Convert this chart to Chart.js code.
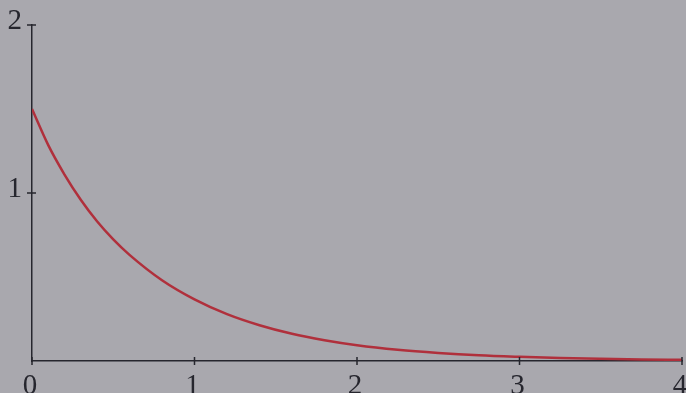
<!DOCTYPE html>
<html>
<head>
<meta charset="utf-8">
<script src="https://cdn.jsdelivr.net/npm/chart.js@4/dist/chart.umd.min.js"></script>
<style>
  html, body { margin: 0; padding: 0; background: #a9a8ae; }
  #wrap { width: 686px; height: 393px; position: relative; }
</style>
</head>
<body>
<div id="wrap"><canvas id="c"></canvas></div>
<script>
// values
const xValues = [0, 0.1, 0.2, 0.3, 0.4, 0.5, 0.6, 0.8, 1.0, 1.2, 1.4, 1.6, 1.8, 2.0, 2.25, 2.5, 2.75, 3.0, 3.25, 3.5, 3.75, 4.0];
const yValues = [1.50, 1.285, 1.11, 0.96, 0.832, 0.724, 0.632, 0.481, 0.367, 0.279, 0.213, 0.162, 0.124, 0.094, 0.067, 0.048, 0.034, 0.025, 0.018, 0.013, 0.009, 0.007];
const xTicks = [0, 1, 2, 3, 4];
const yTicks = [1, 2];

const axisColor = '#26262e';
const lineColor = '#b0303c';

const points = xValues.map((x, i) => ({ x: x, y: yValues[i] }));

// cross-shaped tick marks on both axes
const crossTicks = {
    id: 'crossTicks',
    afterDatasetsDraw(chart) {
        const ctx = chart.ctx;
        const xs = chart.scales.x, ys = chart.scales.y;
        const x0 = xs.getPixelForValue(0), y0 = ys.getPixelForValue(0);
        ctx.save();
        ctx.strokeStyle = axisColor;
        ctx.lineWidth = 1.5;
        ctx.beginPath();
        xTicks.forEach(v => {
            const px = xs.getPixelForValue(v);
            ctx.moveTo(px, y0 - 4);
            ctx.lineTo(px, y0 + 4);
        });
        yTicks.forEach(v => {
            const py = ys.getPixelForValue(v);
            ctx.moveTo(x0 - 5, py);
            ctx.lineTo(x0 + 4, py);
        });
        ctx.stroke();
        ctx.restore();
    }
};

const font = { family: '"Liberation Serif", "DejaVu Serif", serif', size: 29 };

new Chart(document.getElementById('c'), {
    type: 'scatter',
    data: {
        datasets: [{
            data: points,
            showLine: true,
            borderColor: lineColor,
            borderWidth: 2.5,
            pointRadius: 0,
            cubicInterpolationMode: 'monotone',
            fill: false
        }]
    },
    options: {
        responsive: true,
        maintainAspectRatio: false,
        animation: false,
        layout: { autoPadding: false, padding: { left: 0, right: 4, top: 25, bottom: 0 } },
        plugins: { legend: { display: false }, tooltip: { enabled: false } },
        scales: {
            x: {
                type: 'linear',
                min: 0, max: 4,
                afterFit: s => { s.height = 32; s.paddingLeft = 0; s.paddingRight = 0; },
                afterBuildTicks: s => { s.ticks = xTicks.map(v => ({ value: v })); },
                grid: { display: false, drawTicks: false },
                border: { display: true, color: axisColor, width: 1.5 },
                ticks: { font: font, color: axisColor, padding: 8, labelOffset: -2, maxRotation: 0 }
            },
            y: {
                type: 'linear',
                min: 0, max: 2,
                afterFit: s => { s.width = 32; s.paddingTop = 0; s.paddingBottom = 0; },
                afterBuildTicks: s => { s.ticks = yTicks.map(v => ({ value: v })); },
                grid: { display: false, drawTicks: false },
                border: { display: true, color: axisColor, width: 1.5 },
                ticks: { font: font, color: axisColor, padding: 10, labelOffset: -4 }
            }
        }
    },
    plugins: [crossTicks]
});
</script>
</body>
</html>
